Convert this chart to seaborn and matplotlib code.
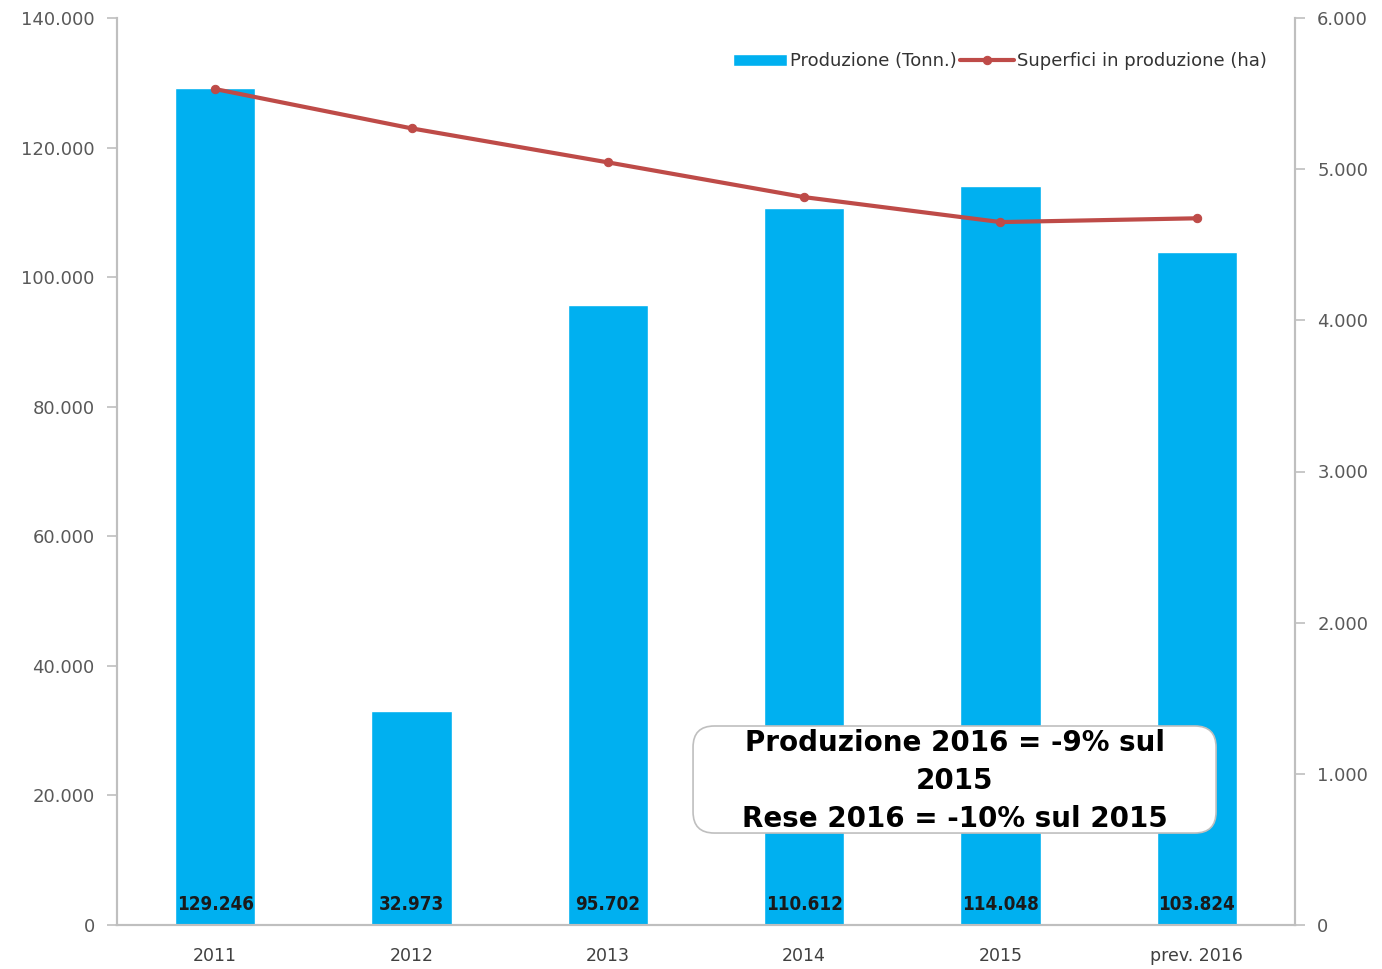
import numpy as np
import matplotlib
matplotlib.use("Agg")
import matplotlib.pyplot as plt
from matplotlib.patches import FancyBboxPatch
import seaborn as sns

# Data
years = ["2011", "2012", "2013", "2014", "2015", "prev. 2016"]
produzione = [129246, 32973, 95702, 110612, 114048, 103824]
superfici = [5530, 5270, 5045, 4815, 4650, 4675]
bar_labels = ["129.246", "32.973", "95.702", "110.612", "114.048", "103.824"]
left_ticks = [0, 20000, 40000, 60000, 80000, 100000, 120000, 140000]
right_ticks = [0, 1000, 2000, 3000, 4000, 5000, 6000]

def fmt(v):
    return f"{v:,}".replace(",", ".")

sns.set_theme(style="white")
plt.rcParams["font.family"] = ["DejaVu Sans"]

BLUE = "#00B0F0"
RED = "#BE4B48"
GRID = "#BFBFBF"
TICKC = "#595959"

fig = plt.figure(figsize=(13.82, 9.69), dpi=100)
ax = fig.add_axes([117 / 1382, 1 - 925 / 969, (1295 - 117) / 1382, (925 - 18) / 969])

pos = np.arange(len(years))
sns.barplot(x=pos, y=produzione, color=BLUE, width=0.41, saturation=1,
            ax=ax, native_scale=True, label="Produzione (Tonn.)")
ax.set_xlim(-0.5, len(years) - 0.5)
ax.set_ylim(0, 140000)
ax.set_yticks(left_ticks)
ax.set_yticklabels([fmt(v) for v in left_ticks], fontsize=13, color=TICKC)
ax.set_xticks(pos)
ax.set_xticklabels(years, fontsize=12.5, color="#404040")
ax.set_xticks(np.arange(-0.5, len(years), 1.0), minor=True)
ax.tick_params(axis="x", which="major", length=0, pad=16)
ax.tick_params(axis="x", which="minor", length=7, color=GRID, width=1.2, direction="out")
ax.tick_params(axis="y", length=7, color=GRID, width=1.2, direction="out", pad=9)
ax.set_xlabel("")
ax.set_ylabel("")
for s in ["left", "right", "bottom"]:
    ax.spines[s].set_color(GRID)
    ax.spines[s].set_linewidth(1.5)
ax.spines["top"].set_visible(False)

# Value labels at the base of each bar
for p, lab in zip(pos, bar_labels):
    ax.annotate(lab, xy=(p, 0), xytext=(0, 15), textcoords="offset points",
                ha="center", va="center", fontsize=13.5, fontweight="bold",
                color="#1a1a1a", fontstretch="condensed")

# Secondary axis: area in production
ax2 = ax.twinx()
sns.lineplot(x=pos, y=superfici, ax=ax2, color=RED, linewidth=3,
             marker="o", markersize=6, markeredgecolor=RED,
             label="Superfici in produzione (ha)")
ax2.set_ylim(0, 6000)
ax2.set_yticks(right_ticks)
ax2.set_yticklabels([fmt(v) for v in right_ticks], fontsize=13, color=TICKC)
ax2.tick_params(axis="y", length=7, color=GRID, width=1.2, direction="out", pad=9)
ax2.set_ylabel("")
for s in ["left", "right", "bottom"]:
    ax2.spines[s].set_color(GRID)
    ax2.spines[s].set_linewidth(1.5)
ax2.spines["top"].set_visible(False)
if ax2.get_legend():
    ax2.get_legend().remove()
if ax.get_legend():
    ax.get_legend().remove()

h1, l1 = ax.get_legend_handles_labels()
h2, l2 = ax2.get_legend_handles_labels()
ax2.legend(h1 + h2, l1 + l2, loc="upper right", ncol=2, frameon=False,
           fontsize=13, bbox_to_anchor=(0.99, 0.98), handlelength=3,
           handletextpad=0.15, columnspacing=0.2, labelcolor="#333333")

# Summary box
box = FancyBboxPatch((0.489, 0.1014), 0.444, 0.118,
                     boxstyle="round,pad=0,rounding_size=0.018",
                     transform=ax2.transAxes, fc="white", ec="#BFBFBF",
                     lw=1.2, mutation_aspect=1178 / 907, zorder=5)
ax2.add_patch(box)
ax2.text(0.711, 0.159, "Produzione 2016 = -9% sul\n2015\nRese 2016 = -10% sul 2015",
         transform=ax2.transAxes, ha="center", va="center", fontsize=20,
         fontweight="bold", color="black", linespacing=1.45, zorder=6)

fig.savefig("out.png", dpi=100)
